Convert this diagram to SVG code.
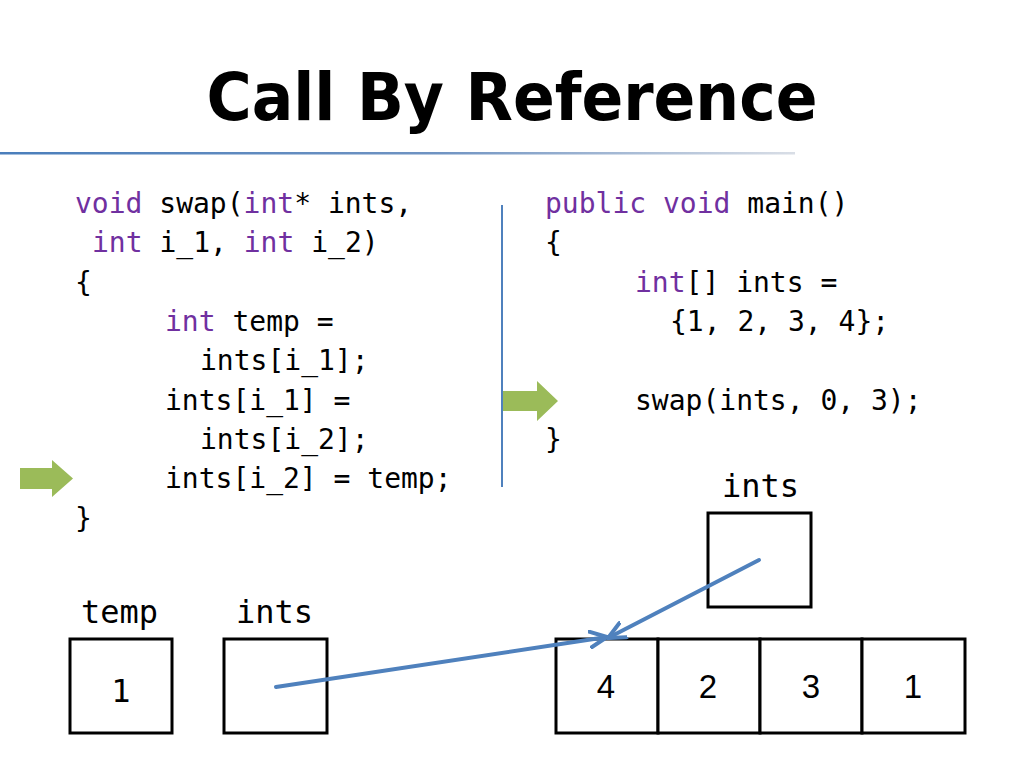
<svg xmlns="http://www.w3.org/2000/svg" width="1024" height="768" viewBox="0 0 1024 768">
<style>
.code{font-family:"DejaVu Sans Mono","Liberation Mono",monospace;font-size:28px;fill:#000;white-space:pre}
.kw{fill:#7030A0}
.lbl{font-family:"DejaVu Sans Mono","Liberation Mono",monospace;font-size:32px;fill:#000}
.num{font-family:"Liberation Sans","DejaVu Sans",sans-serif;font-size:33px;fill:#000;text-anchor:middle}
.box{fill:#fff;stroke:#000;stroke-width:3}
.conn{fill:none;stroke:#4F81BD;stroke-width:4;stroke-linecap:round}
.green{fill:#9BBB59}
</style>
<defs>
<linearGradient id="rule" x1="0" y1="0" x2="1" y2="0">
<stop offset="0" stop-color="#4A7EBB"/>
<stop offset="0.55" stop-color="#6F93C2"/>
<stop offset="1" stop-color="#D9DEE6"/>
</linearGradient>
<marker id="head" viewBox="0 0 20 20" refX="18" refY="10" markerWidth="20" markerHeight="20" markerUnits="userSpaceOnUse" orient="auto">
<path d="M1,2 L18,10 L1,18" fill="none" stroke="#4F81BD" stroke-width="4" stroke-linecap="round" stroke-linejoin="miter"/>
</marker>
</defs>
<rect width="1024" height="768" fill="#fff"/>
<g id="title">
<text x="512" y="120" text-anchor="middle" font-family="DejaVu Sans, Verdana, sans-serif" font-weight="bold" font-size="66" textLength="611" lengthAdjust="spacingAndGlyphs">Call By Reference</text>
<rect x="0" y="152" width="795" height="2.5" fill="url(#rule)"/>
</g>
<line id="divider" x1="502" y1="205" x2="502" y2="487" stroke="#4F81BD" stroke-width="2"/>
<g id="swap-code" class="code">
<text x="75" y="213"><tspan class="kw">void</tspan> swap(<tspan class="kw">int</tspan>* ints,</text>
<text x="92" y="252"><tspan class="kw">int</tspan> i_1, <tspan class="kw">int</tspan> i_2)</text>
<text x="75" y="292">{</text>
<text x="165" y="331"><tspan class="kw">int</tspan> temp =</text>
<text x="200" y="370">ints[i_1];</text>
<text x="165" y="410">ints[i_1] =</text>
<text x="200" y="449">ints[i_2];</text>
<text x="165" y="488">ints[i_2] = temp;</text>
<text x="75" y="528">}</text>
</g>
<g id="main-code" class="code">
<text x="545" y="213"><tspan class="kw">public void</tspan> main()</text>
<text x="545" y="252">{</text>
<text x="635" y="292"><tspan class="kw">int</tspan>[] ints =</text>
<text x="670" y="331">{1, 2, 3, 4};</text>
<text x="635" y="410">swap(ints, 0, 3);</text>
<text x="545" y="449">}</text>
</g>
<g id="arrow-swap">
<polygon class="green" points="20,468 52,468 52,460 73,478.5 52,497 52,489 20,489"/>
</g>
<g id="arrow-main">
<polygon class="green" points="503,391 537,391 537,381 558,401 537,421 537,411 503,411"/>
</g>
<g id="temp-var">
<text class="lbl" x="81" y="623">temp</text>
<rect class="box" x="70" y="639" width="102" height="94"/>
<text class="lbl" x="121" y="702" text-anchor="middle">1</text>
</g>
<g id="ints-param">
<text class="lbl" x="236" y="623">ints</text>
<rect class="box" x="224" y="639" width="103" height="94"/>
</g>
<g id="ints-main">
<text class="lbl" x="722" y="497">ints</text>
<rect class="box" x="708" y="513" width="103" height="94"/>
</g>
<g id="array">
<rect class="box" x="556" y="639" width="102" height="94"/>
<rect class="box" x="658" y="639" width="102" height="94"/>
<rect class="box" x="760" y="639" width="102" height="94"/>
<rect class="box" x="862" y="639" width="103" height="94"/>
<text class="num" x="606" y="698">4</text>
<text class="num" x="708" y="698">2</text>
<text class="num" x="811" y="698">3</text>
<text class="num" x="913" y="698">1</text>
</g>
<g id="connectors">
<line class="conn" x1="276" y1="687" x2="607" y2="637" marker-end="url(#head)"/>
<line class="conn" x1="759" y1="560" x2="608" y2="638" marker-end="url(#head)"/>
</g>
</svg>
